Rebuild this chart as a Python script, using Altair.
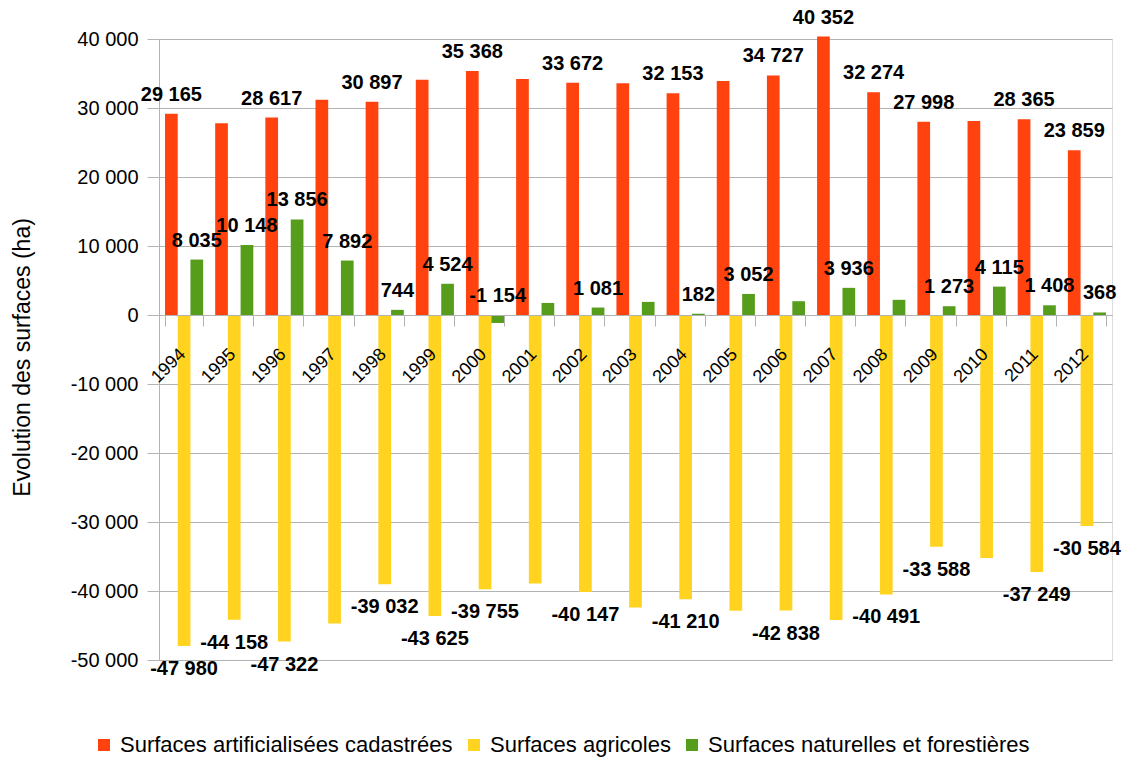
import altair as alt
import pandas as pd

# Années et séries
ANNEES = ["1994", "1995", "1996", "1997", "1998", "1999", "2000", "2001", "2002", "2003",
          "2004", "2005", "2006", "2007", "2008", "2009", "2010", "2011", "2012"]

SERIES = ["Surfaces artificialisées cadastrées", "Surfaces agricoles",
          "Surfaces naturelles et forestières"]
COULEURS = ["#ff420e", "#ffd320", "#579d1c"]

# Evolution annuelle des surfaces (ha)
ARTIFICIALISEES = [29165, 27800, 28617, 31200, 30897, 34100, 35368, 34200, 33672, 33600,
                   32153, 33900, 34727, 40352, 32274, 27998, 28100, 28365, 23859]
AGRICOLES = [-47980, -44158, -47322, -44700, -39032, -43625, -39755, -38900, -40147, -42400,
             -41210, -42850, -42838, -44200, -40491, -33588, -35200, -37249, -30584]
NATURELLES = [8035, 10148, 13856, 7892, 744, 4524, -1154, 1750, 1081, 1900,
              182, 3052, 2000, 3936, 2200, 1273, 4115, 1408, 368]

# Années dont la valeur est affichée, par série
ETIQ_ARTIFICIALISEES = ["1994", "1996", "1998", "2000", "2002", "2004", "2006", "2007",
                        "2008", "2009", "2011", "2012"]
ETIQ_AGRICOLES = ["1994", "1995", "1996", "1998", "1999", "2000", "2002", "2004", "2006",
                  "2008", "2009", "2011", "2012"]
ETIQ_NATURELLES = ["1994", "1995", "1996", "1997", "1998", "1999", "2000", "2002", "2004",
                   "2005", "2007", "2009", "2010", "2011", "2012"]

Y_MIN, Y_MAX = -50000, 40000
W, H = 953, 621
FONT = "Liberation Sans"
GRIS = "#b3b3b3"

rows = []
for serie, valeurs, etiq in zip(SERIES, [ARTIFICIALISEES, AGRICOLES, NATURELLES],
                                [ETIQ_ARTIFICIALISEES, ETIQ_AGRICOLES, ETIQ_NATURELLES]):
    for annee, v in zip(ANNEES, valeurs):
        rows.append({"annee": annee, "serie": serie, "valeur": v,
                     "etiquette": annee in etiq})
df = pd.DataFrame(rows)

# décalage de l'axe des années jusqu'à la ligne du zéro
offset_zero = -H * (0 - Y_MIN) / (Y_MAX - Y_MIN)

x_axis = alt.Axis(title=None, labelAngle=315, offset=offset_zero, tickBand="extent",
                  grid=False, domainColor=GRIS, tickColor=GRIS, tickSize=11,
                  labelFontSize=18, labelFont=FONT, labelColor="black",
                  labelPadding=19, labelOffset=-8, labelOverlap=False, labelBound=False,
                  labelFlush=False, zindex=1)
y_axis = alt.Axis(title="Evolution des surfaces (ha)",
                  values=list(range(Y_MIN, Y_MAX + 1, 10000)), format=",d",
                  grid=True, gridColor=GRIS, domainColor=GRIS, tickColor=GRIS,
                  tickSize=12, labelPadding=9, labelFontSize=20, labelFont=FONT,
                  labelColor="black", titleFont=FONT, titleFontSize=23,
                  titleFontWeight="normal", titleColor="black", titleAngle=270,
                  titleAlign="center", titleBaseline="middle",
                  titleX=-137, titleY=318)

x_scale = alt.Scale(paddingInner=0.24, paddingOuter=0.12)
y_scale = alt.Scale(domain=[Y_MIN, Y_MAX], nice=False)
xo = alt.XOffset("serie:N", sort=SERIES, scale=alt.Scale(paddingInner=0, paddingOuter=0))
x_enc = alt.X("annee:N", sort=ANNEES, scale=x_scale, axis=x_axis)

base = alt.Chart(df)

barres = base.mark_bar().encode(
    x=x_enc,
    xOffset=xo,
    y=alt.Y("valeur:Q", scale=y_scale, axis=y_axis),
    color=alt.Color("serie:N", sort=SERIES,
                    scale=alt.Scale(domain=SERIES, range=COULEURS),
                    legend=alt.Legend(title=None, orient="none", direction="horizontal",
                                      legendX=-66, legendY=695, symbolType="square",
                                      symbolSize=144, symbolStrokeWidth=0,
                                      labelFont=FONT, labelFontSize=22, labelColor="black",
                                      labelLimit=0, labelOffset=5, columnPadding=10,
                                      padding=0)),
)

# valeurs au-dessus des barres (séries artificialisée et naturelle)
etiq_haut = base.transform_filter(
    (alt.datum.etiquette == True) & (alt.datum.serie != SERIES[1])
).transform_calculate(
    ypos="max(datum.valeur, 0)"
).mark_text(font=FONT, fontSize=20, fontWeight="bold", color="black",
            baseline="alphabetic", dy=-13).encode(
    x=x_enc, xOffset=xo,
    y=alt.Y("ypos:Q", scale=y_scale, axis=y_axis),
    text=alt.Text("valeur:Q", format=",d"),
)

# valeurs sous les barres agricoles
etiq_bas = base.transform_filter(
    (alt.datum.etiquette == True) & (alt.datum.serie == SERIES[1])
).mark_text(font=FONT, fontSize=20, fontWeight="bold", color="black",
            baseline="top", dy=13).encode(
    x=x_enc, xOffset=xo,
    y=alt.Y("valeur:Q", scale=y_scale, axis=y_axis),
    text=alt.Text("valeur:Q", format=",d"),
)

chart = alt.layer(barres, etiq_haut, etiq_bas).properties(
    width=W, height=H,
    padding={"left": 159, "top": 39, "right": 25, "bottom": 98},
    autosize=alt.AutoSizeParams(type="none"),
    background="white",
).configure_view(
    stroke=GRIS, strokeWidth=1
).configure(
    locale={"number": {"decimal": ",", "thousands": " ", "grouping": [3],
                       "currency": ["", " €"], "minus": "-"}}
)

chart.save("out.html", embed_options={"renderer": "svg", "actions": False})
